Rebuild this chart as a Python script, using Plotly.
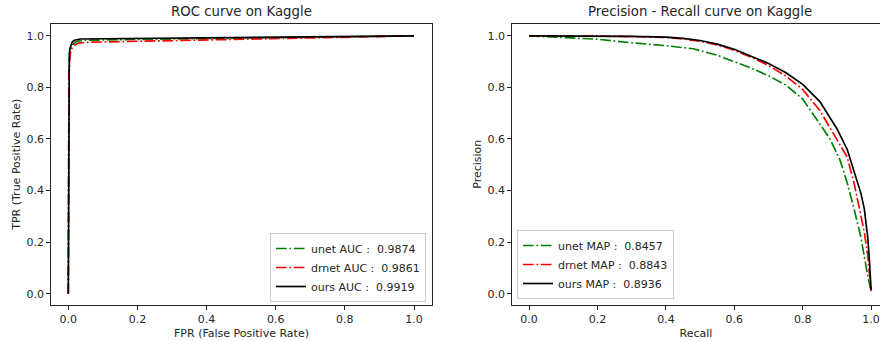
import plotly.graph_objects as go

# ROC data
roc_unet_fpr = [0, 0.0005, 0.001, 0.002, 0.004, 0.007, 0.012, 0.02, 0.03, 0.05, 0.2, 0.4, 0.6, 0.8, 1.0]
roc_unet_tpr = [0, 0.5, 0.78, 0.88, 0.925, 0.95, 0.965, 0.975, 0.98, 0.983, 0.986, 0.99, 0.993, 0.997, 1.0]
roc_drnet_fpr = [0, 0.0005, 0.001, 0.002, 0.004, 0.007, 0.012, 0.02, 0.03, 0.05, 0.2, 0.4, 0.6, 0.8, 1.0]
roc_drnet_tpr = [0, 0.5, 0.75, 0.86, 0.91, 0.94, 0.955, 0.966, 0.972, 0.975, 0.979, 0.984, 0.989, 0.995, 1.0]
roc_ours_fpr = [0, 0.0005, 0.001, 0.002, 0.003, 0.005, 0.008, 0.012, 0.018, 0.025, 0.035, 0.1, 0.3, 0.5, 0.7, 0.9, 1.0]
roc_ours_tpr = [0, 0.55, 0.82, 0.9, 0.93, 0.952, 0.967, 0.977, 0.983, 0.986, 0.988, 0.989, 0.992, 0.994, 0.996, 0.999, 1.0]

# Precision-Recall data
pr_unet_recall = [0, 0.1, 0.2, 0.3, 0.4, 0.48, 0.55, 0.6, 0.65, 0.7, 0.75, 0.8, 0.85, 0.88, 0.91, 0.93, 0.95, 0.97, 0.99, 1.0]
pr_unet_precision = [1.0, 0.994, 0.987, 0.973, 0.962, 0.95, 0.925, 0.9, 0.875, 0.845, 0.81, 0.755, 0.66, 0.6, 0.515, 0.43, 0.33, 0.22, 0.07, 0.01]
pr_drnet_recall = [0, 0.1, 0.2, 0.3, 0.4, 0.45, 0.5, 0.55, 0.6, 0.65, 0.7, 0.75, 0.8, 0.85, 0.9, 0.93, 0.95, 0.97, 0.98, 0.99, 1.0]
pr_drnet_precision = [1.0, 1.0, 0.999, 0.997, 0.994, 0.988, 0.979, 0.965, 0.944, 0.917, 0.885, 0.845, 0.792, 0.711, 0.6, 0.53, 0.43, 0.31, 0.24, 0.15, 0.01]
pr_ours_recall = [0, 0.1, 0.2, 0.3, 0.4, 0.45, 0.5, 0.55, 0.6, 0.65, 0.7, 0.75, 0.8, 0.85, 0.9, 0.93, 0.95, 0.97, 0.98, 0.99, 0.995, 1.0]
pr_ours_precision = [1.0, 1.0, 0.999, 0.998, 0.995, 0.99, 0.982, 0.968, 0.948, 0.922, 0.893, 0.858, 0.812, 0.745, 0.64, 0.56, 0.475, 0.39, 0.33, 0.22, 0.13, 0.015]

roc_names = ["unet AUC :\u00a0\u00a00.9874", "drnet AUC :\u00a0\u00a00.9861", "ours AUC :\u00a0\u00a00.9919"]
pr_names = ["unet MAP :\u00a0\u00a00.8457", "drnet MAP :\u00a0\u00a00.8843", "ours MAP :\u00a0\u00a00.8936"]
tick_vals = [0.0, 0.2, 0.4, 0.6, 0.8, 1.0]
tick_text = ["0.0", "0.2", "0.4", "0.6", "0.8", "1.0"]

W, H = 880, 341
FONT = "DejaVu Sans"
TXT = "#262626"
FS = 11
TFS = 13.3
LW = 1.67
dashdot = "10.7px,2.7px,1.7px,2.7px"
colors = ["green", "red", "black"]
dashes = [dashdot, dashdot, "solid"]

fig = go.Figure()
roc_x = [roc_unet_fpr, roc_drnet_fpr, roc_ours_fpr]
roc_y = [roc_unet_tpr, roc_drnet_tpr, roc_ours_tpr]
for i in range(3):
    fig.add_trace(go.Scatter(x=roc_x[i], y=roc_y[i], mode="lines", name=roc_names[i],
                             line=dict(color=colors[i], width=LW, dash=dashes[i]),
                             xaxis="x", yaxis="y", legend="legend"))
pr_x = [pr_unet_recall, pr_drnet_recall, pr_ours_recall]
pr_y = [pr_unet_precision, pr_drnet_precision, pr_ours_precision]
for i in range(3):
    fig.add_trace(go.Scatter(x=pr_x[i], y=pr_y[i], mode="lines", name=pr_names[i],
                             line=dict(color=colors[i], width=LW, dash=dashes[i]),
                             xaxis="x2", yaxis="y2", legend="legend2"))

def px_x(p):
    return p / W

def px_y(p):
    return 1 - p / H

top, bottom = 23.5, 305
axis_common = dict(showgrid=False, zeroline=False, showline=True, mirror=True,
                   linecolor="#222", linewidth=1, ticks="outside", ticklen=3.9,
                   tickwidth=0.9, tickcolor="#222",
                   tickfont=dict(family=FONT, size=FS, color=TXT),
                   tickvals=tick_vals, ticktext=tick_text)

fig.update_layout(
    width=W, height=H, margin=dict(l=0, r=0, t=0, b=0),
    paper_bgcolor="white", plot_bgcolor="white",
    font=dict(family=FONT, size=FS, color=TXT),
    xaxis=dict(domain=[px_x(51), px_x(432)], range=[-0.05, 1.052], anchor="y",
               title=dict(text="FPR (False Positive Rate)", font=dict(size=FS, color=TXT), standoff=4),
               **axis_common),
    yaxis=dict(domain=[px_y(bottom), px_y(top)], range=[-0.044, 1.048], anchor="x",
               title=dict(text="TPR (True Positive Rate)", font=dict(size=FS, color=TXT), standoff=3),
               **axis_common),
    xaxis2=dict(domain=[px_x(512), 1.0], range=[-0.05, 1.026], anchor="y2",
                title=dict(text="Recall", font=dict(size=FS, color=TXT), standoff=4),
                **axis_common),
    yaxis2=dict(domain=[px_y(bottom), px_y(top)], range=[-0.044, 1.048], anchor="x2",
                title=dict(text="Precision", font=dict(size=FS, color=TXT), standoff=3),
                **axis_common),
    legend=dict(x=px_x(426), y=px_y(302), xanchor="right", yanchor="bottom",
                bgcolor="rgba(255,255,255,0.8)", bordercolor="#cccccc", borderwidth=1,
                font=dict(family=FONT, size=FS, color=TXT), itemwidth=30,
                tracegroupgap=0),
    legend2=dict(x=px_x(517), y=px_y(299), xanchor="left", yanchor="bottom",
                 bgcolor="rgba(255,255,255,0.8)", bordercolor="#cccccc", borderwidth=1,
                 font=dict(family=FONT, size=FS, color=TXT), itemwidth=30,
                 tracegroupgap=0),
    showlegend=True,
    annotations=[
        dict(text="ROC curve on Kaggle", x=px_x(241.5), y=px_y(12), xref="paper", yref="paper",
             showarrow=False, xanchor="center", yanchor="middle",
             font=dict(family=FONT, size=TFS, color=TXT)),
        dict(text="Precision - Recall curve on Kaggle", x=px_x(700), y=px_y(12), xref="paper", yref="paper",
             showarrow=False, xanchor="center", yanchor="middle",
             font=dict(family=FONT, size=TFS, color=TXT)),
    ],
)

fig.write_html("out.html", config={"displayModeBar": False},
               post_script="document.body.style.margin='0';document.body.style.overflow='hidden';")
